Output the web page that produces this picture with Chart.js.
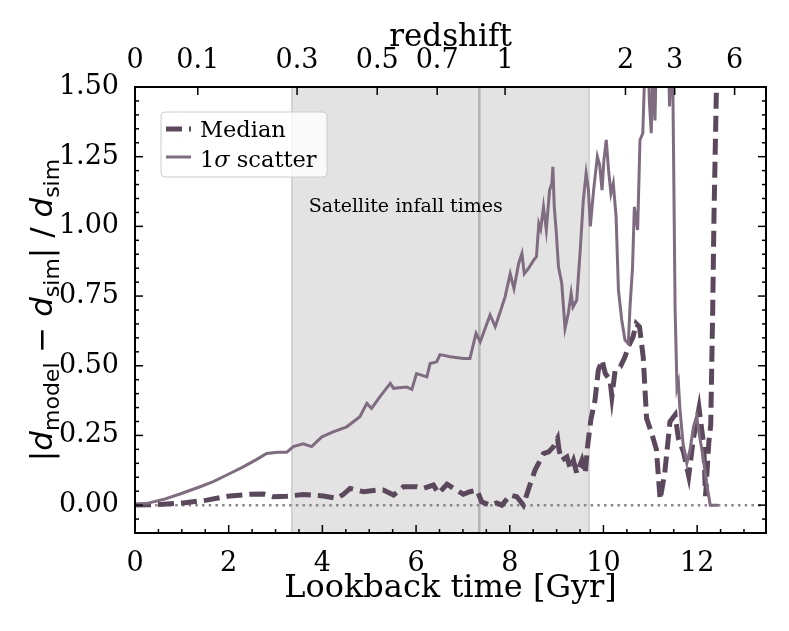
<!DOCTYPE html>
<html>
<head>
<meta charset="utf-8">
<script src="https://cdn.jsdelivr.net/npm/chart.js@4.4.0/dist/chart.umd.min.js"></script>
<style>
  html, body { margin: 0; padding: 0; background: #fff; }
  #wrap { width: 789px; height: 631px; }
</style>
</head>
<body>
<div id="wrap"><canvas id="myChart"></canvas></div>
<script>
// lookback time [Gyr] / relative distance error
const medianT = [0, 0.6, 1.03, 1.53, 2.03, 2.46, 2.74, 2.95, 3.24, 3.59, 4.02, 4.31, 4.45, 4.59, 4.88, 5.16, 5.3, 5.52,
  5.73, 6.01, 6.16, 6.37, 6.48, 6.66, 6.8, 7.01, 7.15, 7.3, 7.4, 7.58, 7.72, 7.83, 8.01, 8.15, 8.29, 8.43, 8.54,
  8.65, 8.72, 8.83, 8.93, 9.02, 9.05, 9.11, 9.22, 9.29, 9.36, 9.43, 9.54, 9.61, 9.66, 9.73, 9.82, 9.89, 9.97,
  10.04, 10.14, 10.18, 10.25, 10.36, 10.46, 10.53, 10.63, 10.7, 10.77, 10.85, 10.92, 11.02, 11.13, 11.21, 11.31,
  11.42, 11.53, 11.6, 11.71, 11.82, 11.92, 12.04, 12.14, 12.18, 12.25, 12.29, 12.33, 12.36, 12.41];
const medianV = [0, 0.003, 0.008, 0.018, 0.033, 0.039, 0.04, 0.03, 0.032, 0.038, 0.033, 0.024, 0.039, 0.06, 0.048,
  0.054, 0.054, 0.036, 0.066, 0.066, 0.06, 0.072, 0.042, 0.075, 0.06, 0.039, 0.048, 0.054, 0.012, 0, 0.008, 0,
  0.036, 0.03, 0, 0.072, 0.126, 0.161, 0.185, 0.191, 0.209, 0.239, 0.2, 0.161, 0.173, 0.132, 0.16, 0.114, 0.161,
  0.114, 0.209, 0.305, 0.377, 0.484, 0.52, 0.472, 0.449, 0.389, 0.484, 0.496, 0.532, 0.568, 0.603, 0.651, 0.639,
  0.53, 0.311, 0.263, 0.2, 0.02, 0.117, 0.299, 0.324, 0.239, 0.19, 0.105, 0.239, 0.348, 0.215, 0.032, 0.227,
  0.287, 0.676, 1.04, 1.48];

const scatterT = [0, 0.3, 0.6, 0.96, 1.39, 1.67, 1.96, 2.31, 2.6, 2.81, 3.05, 3.24, 3.38, 3.59, 3.77, 3.99, 4.23,
  4.52, 4.8, 4.95, 5.05, 5.23, 5.45, 5.52, 5.8, 5.91, 6.01, 6.23, 6.3, 6.44, 6.51, 6.73, 7.01, 7.15, 7.28, 7.37,
  7.58, 7.69, 7.79, 7.9, 8.01, 8.09, 8.19, 8.26, 8.31, 8.4, 8.51, 8.57, 8.62, 8.66, 8.72, 8.78, 8.85, 8.9, 8.92,
  8.95, 8.99, 9.04, 9.11, 9.18, 9.25, 9.31, 9.35, 9.43, 9.5, 9.57, 9.63, 9.68, 9.72, 9.79, 9.87, 9.92, 9.97,
  10.01, 10.06, 10.11, 10.16, 10.21, 10.27, 10.32, 10.39, 10.46, 10.53, 10.57, 10.62, 10.66, 10.73, 10.78, 10.84,
  10.89, 10.94, 10.98, 11.02, 11.06, 11.1, 11.14, 11.38, 11.41, 11.45, 11.47, 11.5, 11.53, 11.57, 11.6, 11.63,
  11.7, 11.78, 11.85, 11.92, 11.99, 12.05, 12.12, 12.2, 12.28, 12.45];
const scatterV = [0, 0.008, 0.02, 0.04, 0.066, 0.084, 0.108, 0.137, 0.164, 0.185, 0.19, 0.19, 0.21, 0.22, 0.21,
  0.245, 0.263, 0.281, 0.317, 0.365, 0.347, 0.389, 0.437, 0.419, 0.424, 0.415, 0.472, 0.46, 0.508, 0.514, 0.54,
  0.532, 0.526, 0.526, 0.616, 0.586, 0.682, 0.64, 0.69, 0.747, 0.83, 0.777, 0.867, 0.903, 0.83, 0.849, 0.879,
  0.891, 1.01, 0.99, 1.07, 0.987, 1.13, 1.154, 1.214, 1.07, 0.987, 0.855, 0.795, 0.634, 0.688, 0.76, 0.711,
  0.736, 0.903, 1.094, 1.19, 1.13, 1.0, 1.13, 1.25, 1.22, 1.13, 1.238, 1.31, 1.2, 1.118, 1.154, 1.034, 0.771,
  0.664, 0.592, 0.58, 0.72, 0.85, 1.07, 0.987, 1.31, 1.334, 1.6, 1.7, 1.45, 1.334, 1.6, 1.38, 1.7, 1.7, 1.43,
  1.6, 1.7, 1.2, 0.7, 0.42, 0.44, 0.35, 0.22, 0.15, 0.2, 0.28, 0.32, 0.25, 0.18, 0.08, 0, 0];

const xTicks = [0, 2, 4, 6, 8, 10, 12];
const yTicks = [0, 0.25, 0.5, 0.75, 1.0, 1.25, 1.5];
const zLabels = ['0', '0.1', '0.3', '0.5', '0.7', '1', '2', '3', '6'];
const zLookback = [0, 1.34, 3.46, 5.17, 6.45, 7.9, 10.47, 11.52, 12.8];

const infallStart = 3.35;
const infallEnd = 9.69;
const infallLine = 7.35;

const SERIF = '"DejaVu Serif", serif';
const SANS = '"DejaVu Sans", sans-serif';
const medColor = '#5c485d';
const scatColor = '#7f6c80';

function pairs(ts, vs) {
  return ts.map((t, i) => ({ x: t, y: vs[i] }));
}

function drawYLabel(ctx, cx, cy) {
  const big = 31, small = 22, sub = 7;
  const parts = [
    { t: '|', f: `${big}px ${SANS}`, dy: 0 },
    { t: 'd', f: `italic ${big}px ${SANS}`, dy: 0 },
    { t: 'model', f: `${small}px ${SANS}`, dy: sub },
    { t: ' \u2212 ', f: `${big}px ${SANS}`, dy: 0 },
    { t: 'd', f: `italic ${big}px ${SANS}`, dy: 0 },
    { t: 'sim', f: `${small}px ${SANS}`, dy: sub },
    { t: '| / ', f: `${big}px ${SANS}`, dy: 0 },
    { t: 'd', f: `italic ${big}px ${SANS}`, dy: 0 },
    { t: 'sim', f: `${small}px ${SANS}`, dy: sub },
  ];
  let total = 0;
  parts.forEach(p => { ctx.font = p.f; p.w = ctx.measureText(p.t).width; total += p.w; });
  ctx.save();
  ctx.translate(cx, cy);
  ctx.rotate(-Math.PI / 2);
  ctx.fillStyle = '#000';
  ctx.textBaseline = 'alphabetic';
  ctx.textAlign = 'left';
  let x = -total / 2;
  parts.forEach(p => {
    ctx.font = p.f;
    ctx.fillText(p.t, x, 11 + p.dy);
    x += p.w;
  });
  ctx.restore();
}

const decor = {
  id: 'decor',
  beforeDatasetsDraw(chart) {
    const { ctx, chartArea: a, scales: { x, y } } = chart;
    ctx.save();
    ctx.beginPath();
    ctx.rect(a.left, a.top, a.right - a.left, a.bottom - a.top);
    ctx.clip();
    const x0 = x.getPixelForValue(infallStart);
    const x1 = x.getPixelForValue(infallEnd);
    ctx.fillStyle = '#e3e3e3';
    ctx.fillRect(x0, a.top, x1 - x0, a.bottom - a.top);
    ctx.strokeStyle = '#d2d2d2';
    ctx.lineWidth = 2;
    [x0, x1].forEach(px => {
      ctx.beginPath(); ctx.moveTo(px, a.top); ctx.lineTo(px, a.bottom); ctx.stroke();
    });
    const xl = x.getPixelForValue(infallLine);
    ctx.strokeStyle = '#b3b3b3';
    ctx.lineWidth = 2.5;
    ctx.beginPath(); ctx.moveTo(xl, a.top); ctx.lineTo(xl, a.bottom); ctx.stroke();
    // zero line
    const y0 = y.getPixelForValue(0);
    ctx.strokeStyle = '#888888';
    ctx.lineWidth = 2.5;
    ctx.setLineDash([2.5, 4.2]);
    ctx.beginPath(); ctx.moveTo(a.left, y0); ctx.lineTo(a.right, y0); ctx.stroke();
    ctx.restore();
  },
  afterDatasetsDraw(chart) {
    const { ctx, chartArea: a, scales: { x, y, x2 } } = chart;
    ctx.save();
    // annotation text
    ctx.font = `19px ${SERIF}`;
    ctx.fillStyle = '#000';
    ctx.textAlign = 'center';
    ctx.textBaseline = 'alphabetic';
    ctx.fillText('Satellite infall times', x.getPixelForValue(5.78), y.getPixelForValue(1.052));

    // ticks, pointing inward
    ctx.strokeStyle = '#000';
    ctx.lineWidth = 1.5;
    const tick = (x1, y1, x2_, y2_) => { ctx.beginPath(); ctx.moveTo(x1, y1); ctx.lineTo(x2_, y2_); ctx.stroke(); };
    for (let v = 0; v <= x.max + 1e-9; v += 0.5) {
      const px = x.getPixelForValue(v);
      const len = Math.abs(v % 2) < 1e-6 ? 8 : 4;
      tick(px, a.bottom, px, a.bottom - len);
    }
    for (let i = -2; i <= 30; i++) {
      const v = i * 0.05;
      const py = y.getPixelForValue(v);
      const len = i % 5 === 0 ? 8 : 4;
      tick(a.left, py, a.left + len, py);
      tick(a.right, py, a.right - len, py);
    }
    zLookback.forEach(v => {
      const px = x2.getPixelForValue(v);
      tick(px, a.top, px, a.top + 8);
    });
    // frame
    ctx.lineWidth = 2;
    ctx.strokeRect(a.left, a.top, a.right - a.left, a.bottom - a.top);

    // legend
    const lx = a.left + 26, ly = a.top + 25, lw = 166, lh = 65;
    ctx.fillStyle = 'rgba(255,255,255,0.8)';
    ctx.strokeStyle = '#cccccc';
    ctx.lineWidth = 1;
    ctx.beginPath();
    ctx.roundRect(lx, ly, lw, lh, 4);
    ctx.fill();
    ctx.stroke();
    ctx.lineCap = 'butt';
    ctx.strokeStyle = medColor;
    ctx.lineWidth = 5;
    ctx.setLineDash([16, 7]);
    ctx.beginPath(); ctx.moveTo(lx + 5, ly + 17); ctx.lineTo(lx + 30, ly + 17); ctx.stroke();
    ctx.setLineDash([]);
    ctx.strokeStyle = scatColor;
    ctx.lineWidth = 3;
    ctx.beginPath(); ctx.moveTo(lx + 5, ly + 45); ctx.lineTo(lx + 30, ly + 45); ctx.stroke();
    ctx.fillStyle = '#000';
    ctx.textAlign = 'left';
    ctx.font = `22.5px ${SERIF}`;
    ctx.fillText('Median', lx + 39, ly + 25);
    let tx = lx + 39;
    ctx.fillText('1', tx, ly + 55);
    tx += ctx.measureText('1').width;
    ctx.font = `italic 22.5px ${SERIF}`;
    ctx.fillText('\u03c3', tx, ly + 55);
    tx += ctx.measureText('\u03c3').width;
    ctx.font = `22.5px ${SERIF}`;
    ctx.fillText(' scatter', tx, ly + 55);
    ctx.restore();

    drawYLabel(ctx, 41, (a.top + a.bottom) / 2);
  }
};

const ctx = document.getElementById('myChart').getContext('2d');
const myChart = new Chart(ctx, {
  type: 'line',
  data: {
    datasets: [
      {
        label: 'Median',
        data: pairs(medianT, medianV),
        borderColor: medColor,
        borderWidth: 5,
        borderDash: [16, 7],
        pointRadius: 0,
        tension: 0,
        order: 1,
      },
      {
        label: '1\u03c3 scatter',
        data: pairs(scatterT, scatterV),
        borderColor: scatColor,
        borderWidth: 3,
        pointRadius: 0,
        tension: 0,
        order: 0,
      },
    ],
  },
  options: {
    responsive: true,
    maintainAspectRatio: false,
    animation: false,
    layout: { padding: { left: 0, right: 23, top: 0, bottom: 0 } },
    plugins: { legend: { display: false }, tooltip: { enabled: false } },
    scales: {
      x: {
        type: 'linear',
        position: 'bottom',
        min: 0,
        max: 13.47,
        grid: { display: false },
        border: { display: false },
        afterBuildTicks: s => { s.ticks = xTicks.map(v => ({ value: v })); },
        afterFit: s => { s.height = 98; },
        ticks: {
          font: { family: SERIF, size: 27, lineHeight: 1 },
          color: '#000',
          padding: 9,
          maxRotation: 0,
          autoSkip: false,
        },
        title: {
          display: true,
          text: 'Lookback time [Gyr]',
          color: '#000',
          font: { family: SERIF, size: 32, lineHeight: 1 },
          padding: { top: 0, bottom: 26 },
        },
      },
      x2: {
        type: 'linear',
        position: 'top',
        min: 0,
        max: 13.47,
        grid: { display: false },
        border: { display: false },
        afterBuildTicks: s => { s.ticks = zLookback.map(v => ({ value: v })); },
        afterFit: s => { s.height = 87; },
        ticks: {
          font: { family: SERIF, size: 27, lineHeight: 1 },
          color: '#000',
          padding: 5,
          maxRotation: 0,
          autoSkip: false,
          callback: (v, i) => zLabels[i],
        },
        title: {
          display: true,
          text: 'redshift',
          color: '#000',
          font: { family: SERIF, size: 31, lineHeight: 1 },
          padding: { top: 22, bottom: 0 },
        },
      },
      y: {
        min: -0.1,
        max: 1.5,
        grid: { display: false },
        border: { display: false },
        afterBuildTicks: s => { s.ticks = yTicks.map(v => ({ value: v })); },
        afterFit: s => { s.width = 135; },
        ticks: {
          font: { family: SERIF, size: 27, lineHeight: 1 },
          color: '#000',
          padding: 8,
          callback: v => v.toFixed(2),
        },
      },
    },
  },
  plugins: [decor],
});
</script>
</body>
</html>
